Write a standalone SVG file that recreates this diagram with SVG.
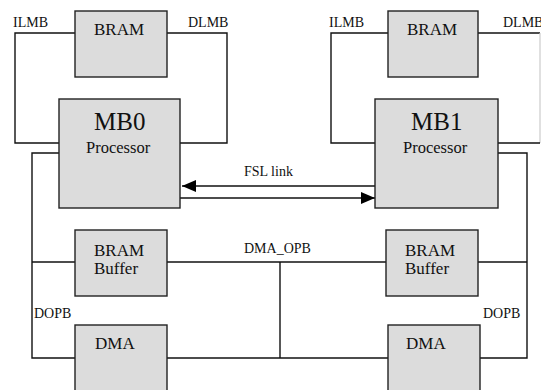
<svg xmlns="http://www.w3.org/2000/svg" width="541" height="390" viewBox="0 0 541 390">
<defs>
<style>
.box{fill:#dcdcdc;stroke:#222;stroke-width:1.4}
.ln{fill:none;stroke:#111;stroke-width:1.4}
text{font-family:"Liberation Serif","Times New Roman",serif;fill:#111}
.lab{font-size:14px}
.bt{font-size:17px}
.big{font-size:25px}
.proc{font-size:16.5px}
</style>
<marker id="ah" viewBox="0 0 10 10" refX="10" refY="5" markerWidth="10" markerHeight="9" markerUnits="userSpaceOnUse" orient="auto-start-reverse">
<path d="M0,0 L10,5 L0,10 Z" fill="#000"/>
</marker>
<marker id="ah2" viewBox="0 0 14 12" refX="14" refY="6" markerWidth="14" markerHeight="12" markerUnits="userSpaceOnUse" orient="auto">
<path d="M0,0 L14,6 L0,12 Z" fill="#000"/>
</marker>
</defs>
<rect width="541" height="390" fill="#fff"/>
<g id="connectors">
<polyline class="ln" points="75,33 15,33 15,143 59,143"/>
<polyline class="ln" points="167,33 227,33 227,143 180,143"/>
<polyline class="ln" points="388,33 331,33 331,143 375,143"/>
<polyline class="ln" points="478,33 540,33"/>
<line x1="540" y1="33" x2="540" y2="143" stroke="#ccc" stroke-width="1.2"/>
<polyline class="ln" points="498,143 540,143"/>
<polyline class="ln" points="59,153 32,153 32,358 75,358"/>
<line class="ln" x1="32" y1="262" x2="75" y2="262"/>
<polyline class="ln" points="498,153 527,153 527,358 480,358"/>
<line class="ln" x1="478" y1="262" x2="527" y2="262"/>
<line class="ln" x1="167" y1="262" x2="386" y2="262"/>
<line class="ln" x1="167" y1="358" x2="388" y2="358"/>
<line class="ln" x1="280" y1="262" x2="280" y2="358"/>
<line class="ln" x1="375" y1="186" x2="182" y2="186" stroke-width="1.6" marker-end="url(#ah2)"/>
<line class="ln" x1="180" y1="198" x2="375" y2="198" stroke-width="1.6" marker-end="url(#ah2)"/>
<text class="lab" x="244" y="176">FSL link</text>
<text class="lab" x="244" y="253">DMA_OPB</text>
<text class="lab" x="13" y="27">ILMB</text>
<text class="lab" x="188" y="27">DLMB</text>
<text class="lab" x="329" y="27">ILMB</text>
<text class="lab" x="503" y="27">DLMB</text>
<text class="lab" x="34" y="318">DOPB</text>
<text class="lab" x="483" y="318">DOPB</text>
</g>
<g id="bram0">
<rect class="box" x="75" y="11" width="92" height="66"/>
<text class="bt" x="94" y="35">BRAM</text>
</g>
<g id="mb0">
<rect class="box" x="59" y="99" width="121" height="109"/>
<text class="big" x="94" y="130">MB0</text>
<text class="proc" x="86" y="153">Processor</text>
</g>
<g id="bram1">
<rect class="box" x="388" y="11" width="90" height="66"/>
<text class="bt" x="407" y="35">BRAM</text>
</g>
<g id="mb1">
<rect class="box" x="375" y="99" width="123" height="109"/>
<text class="big" x="411" y="130">MB1</text>
<text class="proc" x="403" y="153">Processor</text>
</g>
<g id="buf0">
<rect class="box" x="75" y="230" width="92" height="66"/>
<text class="bt" x="94" y="256">BRAM</text>
<text class="bt" x="94" y="274">Buffer</text>
</g>
<g id="buf1">
<rect class="box" x="386" y="230" width="92" height="66"/>
<text class="bt" x="405" y="256">BRAM</text>
<text class="bt" x="405" y="274">Buffer</text>
</g>
<g id="dma0">
<rect class="box" x="75" y="325" width="92" height="70"/>
<text class="bt" x="95" y="349">DMA</text>
</g>
<g id="dma1">
<rect class="box" x="388" y="325" width="92" height="70"/>
<text class="bt" x="406" y="349">DMA</text>
</g>
</svg>
